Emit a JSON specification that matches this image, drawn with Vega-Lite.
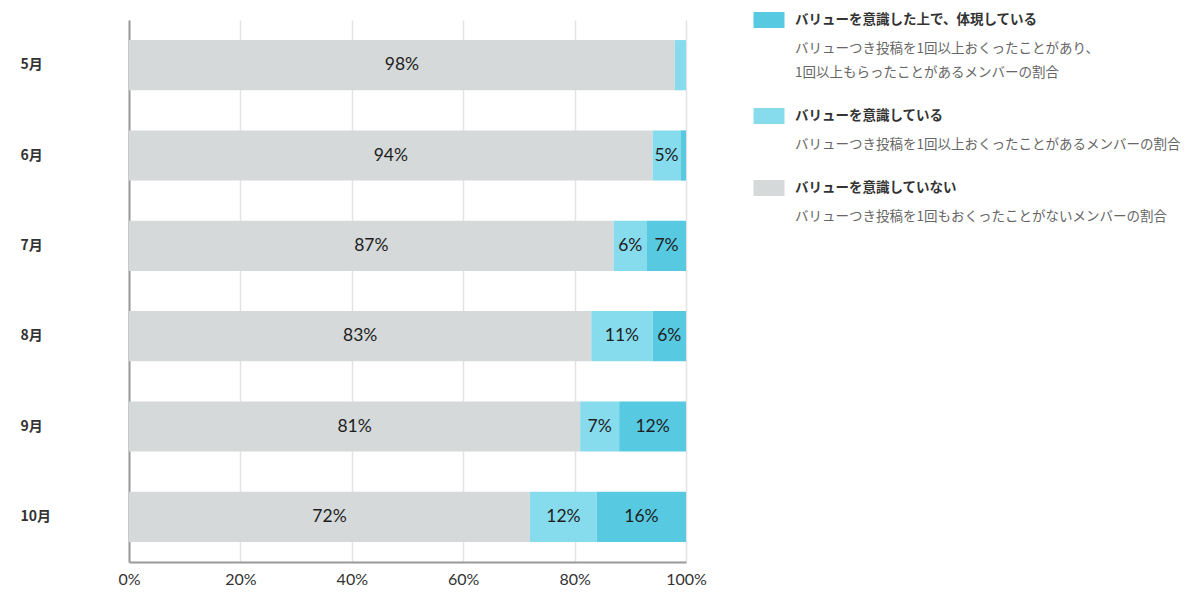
{
  "$schema": "https://vega.github.io/schema/vega-lite/v6.json",
  "background": "white",
  "padding": {"left": 20, "top": 12, "right": 5, "bottom": 5},
  "spacing": 46,
  "config": {"view": {"stroke": null}, "font": "Noto Sans CJK JP"},
  "hconcat": [
    {
      "width": 557,
      "height": 542,
      "data": {
        "values": [
          {"month": "5月", "cat": "バリューを意識していない", "level": 0, "value": 0.98},
          {"month": "5月", "cat": "バリューを意識している", "level": 1, "value": 0.02},
          {"month": "5月", "cat": "バリューを意識した上で、体現している", "level": 2, "value": 0.0},
          {"month": "6月", "cat": "バリューを意識していない", "level": 0, "value": 0.94},
          {"month": "6月", "cat": "バリューを意識している", "level": 1, "value": 0.05},
          {"month": "6月", "cat": "バリューを意識した上で、体現している", "level": 2, "value": 0.01},
          {"month": "7月", "cat": "バリューを意識していない", "level": 0, "value": 0.87},
          {"month": "7月", "cat": "バリューを意識している", "level": 1, "value": 0.06},
          {"month": "7月", "cat": "バリューを意識した上で、体現している", "level": 2, "value": 0.07},
          {"month": "8月", "cat": "バリューを意識していない", "level": 0, "value": 0.83},
          {"month": "8月", "cat": "バリューを意識している", "level": 1, "value": 0.11},
          {"month": "8月", "cat": "バリューを意識した上で、体現している", "level": 2, "value": 0.06},
          {"month": "9月", "cat": "バリューを意識していない", "level": 0, "value": 0.81},
          {"month": "9月", "cat": "バリューを意識している", "level": 1, "value": 0.07},
          {"month": "9月", "cat": "バリューを意識した上で、体現している", "level": 2, "value": 0.12},
          {"month": "10月", "cat": "バリューを意識していない", "level": 0, "value": 0.72},
          {"month": "10月", "cat": "バリューを意識している", "level": 1, "value": 0.12},
          {"month": "10月", "cat": "バリューを意識した上で、体現している", "level": 2, "value": 0.16}
        ]
      },
      "encoding": {
        "y": {
          "field": "month",
          "type": "nominal",
          "sort": ["5月", "6月", "7月", "8月", "9月", "10月"],
          "scale": {"paddingInner": 0.444, "paddingOuter": 0.222},
          "axis": {
            "title": null,
            "domain": true,
            "domainColor": "#999999",
            "domainWidth": 2,
            "ticks": false,
            "labelAlign": "left",
            "labelPadding": 109,
            "labelFontSize": 14,
            "labelFontWeight": "bold",
            "labelColor": "#333333",
            "labelFont": "Noto Sans CJK JP"
          }
        },
        "x": {
          "field": "value",
          "type": "quantitative",
          "stack": "normalize",
          "scale": {"domain": [0, 1], "nice": false},
          "axis": {
            "title": null,
            "format": ".0%",
            "values": [0, 0.2, 0.4, 0.6, 0.8, 1],
            "grid": true,
            "gridColor": "#e3e3e3",
            "gridWidth": 1.5,
            "ticks": false,
            "domainColor": "#999999",
            "domainWidth": 2,
            "labelFlush": false,
            "labelFontSize": 16,
            "labelColor": "#333333",
            "labelPadding": 9,
            "labelFont": "Lato"
          }
        }
      },
      "layer": [
        {
          "mark": {"type": "bar"},
          "encoding": {
            "color": {
              "field": "cat",
              "type": "nominal",
              "scale": {
                "domain": ["バリューを意識した上で、体現している", "バリューを意識している", "バリューを意識していない"],
                "range": ["#57c9e1", "#86dced", "#d5d9d9"]
              },
              "legend": null
            },
            "order": {"field": "level", "type": "quantitative"}
          }
        },
        {
          "mark": {"type": "text", "font": "Lato", "fontSize": 17.5, "color": "#1e1e1e", "align": "center", "baseline": "middle"},
          "encoding": {
            "x": {"field": "value", "type": "quantitative", "stack": "normalize", "bandPosition": 0.5},
            "detail": {"field": "cat", "type": "nominal"},
            "order": {"field": "level", "type": "quantitative"},
            "text": {
              "field": "value",
              "type": "quantitative",
              "format": ".0%",
              "condition": {"test": "datum.value < 0.05", "value": ""}
            }
          }
        }
      ]
    },
    {
      "width": 26,
      "height": 192,
      "data": {
        "values": [
          {"slot": 0, "kind": "title", "cat": "バリューを意識した上で、体現している", "text": "バリューを意識した上で、体現している"},
          {"slot": 1, "kind": "desc", "text": "バリューつき投稿を1回以上おくったことがあり、"},
          {"slot": 2, "kind": "desc", "text": "1回以上もらったことがあるメンバーの割合"},
          {"slot": 4, "kind": "title", "cat": "バリューを意識している", "text": "バリューを意識している"},
          {"slot": 5, "kind": "desc", "text": "バリューつき投稿を1回以上おくったことがあるメンバーの割合"},
          {"slot": 7, "kind": "title", "cat": "バリューを意識していない", "text": "バリューを意識していない"},
          {"slot": 8, "kind": "desc", "text": "バリューつき投稿を1回もおくったことがないメンバーの割合"}
        ]
      },
      "encoding": {
        "y": {
          "field": "slot",
          "type": "ordinal",
          "scale": {"type": "point", "domain": [0, 1, 2, 3, 4, 5, 6, 7, 8], "padding": 0},
          "axis": null
        }
      },
      "layer": [
        {
          "transform": [{"filter": "datum.kind === 'title'"}],
          "mark": {"type": "point", "shape": "M-1,-0.516L1,-0.516L1,0.516L-1,0.516Z", "size": 961, "filled": true, "opacity": 1},
          "encoding": {
            "x": {"datum": "swatch", "type": "ordinal", "scale": {"type": "point", "domain": ["swatch", "text"], "padding": 0}, "axis": null},
            "color": {
              "field": "cat",
              "type": "nominal",
              "scale": {
                "domain": ["バリューを意識した上で、体現している", "バリューを意識している", "バリューを意識していない"],
                "range": ["#57c9e1", "#86dced", "#d5d9d9"]
              },
              "legend": null
            }
          }
        },
        {
          "transform": [{"filter": "datum.kind === 'title'"}],
          "mark": {"type": "text", "align": "left", "baseline": "middle", "fontWeight": "bold", "fontSize": 13.5, "color": "#333333"},
          "encoding": {
            "x": {"datum": "text", "type": "ordinal", "scale": {"type": "point", "domain": ["swatch", "text"], "padding": 0}, "axis": null},
            "text": {"field": "text", "type": "nominal"}
          }
        },
        {
          "transform": [{"filter": "datum.kind === 'desc'"}],
          "mark": {"type": "text", "align": "left", "baseline": "middle", "fontSize": 13.5, "dy": 5, "color": "#666666"},
          "encoding": {
            "x": {"datum": "text", "type": "ordinal", "scale": {"type": "point", "domain": ["swatch", "text"], "padding": 0}, "axis": null},
            "text": {"field": "text", "type": "nominal"}
          }
        }
      ]
    }
  ]
}
